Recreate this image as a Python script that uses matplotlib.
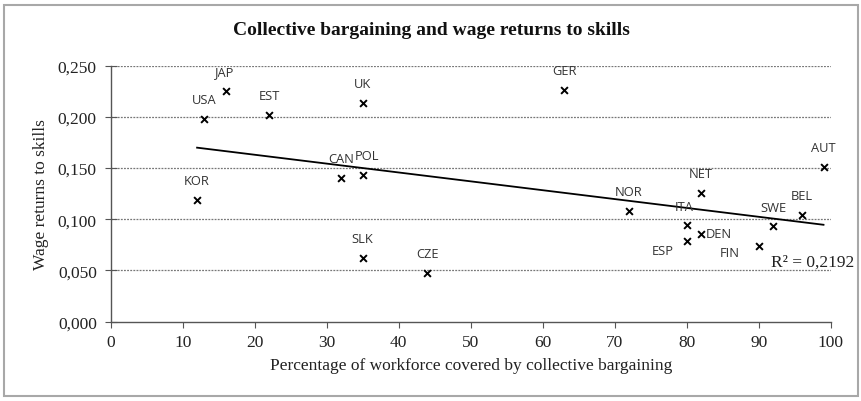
import numpy as np
import matplotlib
matplotlib.use("Agg")
import matplotlib.pyplot as plt
from matplotlib.patches import Rectangle
from matplotlib.ticker import FuncFormatter

# data
countries = ["JAP", "USA", "EST", "UK", "CAN", "POL", "KOR", "SLK", "CZE", "GER",
             "AUT", "NET", "NOR", "BEL", "ITA", "SWE", "DEN", "ESP", "FIN"]
coverage = [16, 13, 22, 35, 32, 35, 12, 35, 44, 63,
            99, 82, 72, 96, 80, 92, 82, 80, 90]
wage_returns = [0.225, 0.198, 0.202, 0.214, 0.140, 0.143, 0.119, 0.062, 0.048, 0.226,
                0.151, 0.126, 0.108, 0.104, 0.094, 0.093, 0.086, 0.079, 0.074]
r2_text = "R² = 0,2192"

# label placement (offset in points, alignment)
label_pos = {
    "JAP": (-1, 14, "center"), "POL": (3, 14, "center"), "ITA": (-2, 14, "center"),
    "DEN": (3, 0, "left"), "ESP": (-17, -7, "center"), "FIN": (-21, -5, "center"),
}

serif = "Liberation Serif"
sans = "Open Sans"

fig = plt.figure(figsize=(8.62, 4.02), dpi=100)
ax = fig.add_axes([0.1284, 0.1973, 0.8353, 0.6367])

x = np.array(coverage, dtype=float)
y = np.array(wage_returns)
ax.scatter(x, y, marker="x", s=24, color="black", linewidths=1.4, zorder=3)

# linear trend
slope, intercept = np.polyfit(x, y, 1)
xs = np.array([x.min(), x.max()])
ax.plot(xs, slope * xs + intercept, color="black", lw=1.3, zorder=2)

for name, xi, yi in zip(countries, x, y):
    dx, dy, ha = label_pos.get(name, (0, 14, "center"))
    ax.annotate(name, (xi, yi), xytext=(dx, dy), textcoords="offset points",
                ha=ha, va="center", fontsize=9.3, family=sans, color="#333333")

ax.text(91.7, 0.0586, r2_text, ha="left", va="center",
        fontsize=12.5, family=serif, color="#222222")

ax.set_xlim(0, 100)
ax.set_ylim(0, 0.25)
ax.set_xticks(np.arange(0, 101, 10))
ax.set_yticks(np.arange(0, 0.2501, 0.05))
ax.yaxis.set_major_formatter(FuncFormatter(lambda v, p: f"{v:.3f}".replace(".", ",")))
for v in np.arange(0.05, 0.2501, 0.05):
    ax.axhline(v, color="#777777", lw=0.9, ls=(0, (1.5, 1)), zorder=1)

for s in ["top", "right"]:
    ax.spines[s].set_visible(False)
for s in ["left", "bottom"]:
    ax.spines[s].set_color("#555555")
    ax.spines[s].set_linewidth(1.0)
ax.tick_params(axis="y", direction="inout", length=8, color="#555555", pad=6)
ax.tick_params(axis="x", direction="out", length=4, color="#555555", pad=5)
for lab in ax.get_xticklabels() + ax.get_yticklabels():
    lab.set_family(serif)
    lab.set_fontsize(12.5)
    lab.set_color("#222222")

ax.set_xlabel("Percentage of workforce covered by collective bargaining",
              family=serif, fontsize=12.5, color="#222222", labelpad=5)
ax.set_ylabel("Wage returns to skills", family=serif, fontsize=12.5,
              color="#222222", labelpad=6)
fig.text(0.5, 0.925, "Collective bargaining and wage returns to skills",
         ha="center", va="center", family=serif, fontsize=14,
         fontweight="bold", color="#111111")

fig.patches.append(Rectangle((4 / 862, 5 / 402), 854 / 862, 391 / 402,
                             transform=fig.transFigure, fill=False,
                             edgecolor="#a8a8a8", lw=1.5))

fig.savefig("out.png", dpi=100)
